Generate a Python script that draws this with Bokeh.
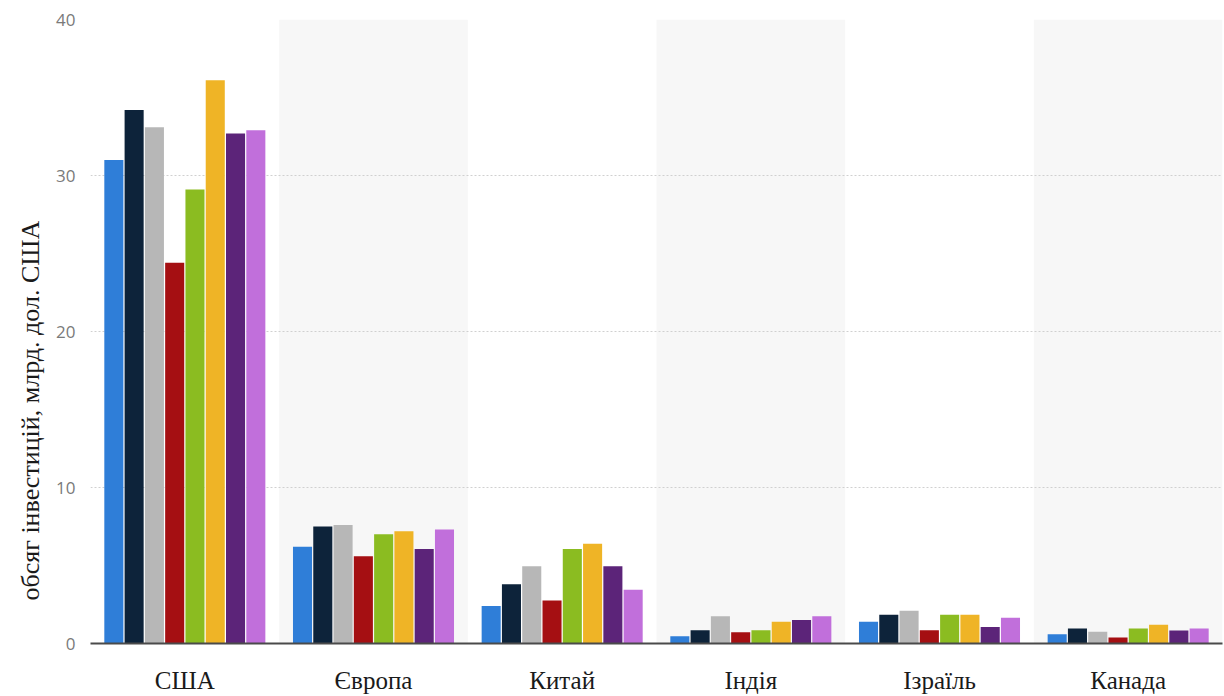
from bokeh.embed import file_html
from bokeh.models import ColumnDataSource, FactorRange, Range1d, Title
from bokeh.plotting import figure
from bokeh.resources import INLINE
from bokeh.transform import dodge

# Regions on the x axis
regions = ["США", "Європа", "Китай", "Індія", "Ізраїль", "Канада"]

# Investment volume per region, billion US dollars, one list per period
period_1 = [31.0, 6.2, 2.4, 0.47, 1.4, 0.6]
period_2 = [34.2, 7.5, 3.8, 0.85, 1.85, 0.96]
period_3 = [33.1, 7.6, 4.95, 1.75, 2.1, 0.75]
period_4 = [24.4, 5.6, 2.75, 0.72, 0.85, 0.38]
period_5 = [29.1, 7.0, 6.05, 0.85, 1.85, 0.96]
period_6 = [36.1, 7.2, 6.4, 1.4, 1.85, 1.2]
period_7 = [32.7, 6.05, 4.95, 1.5, 1.05, 0.83]
period_8 = [32.9, 7.3, 3.45, 1.75, 1.65, 0.96]

series = [period_1, period_2, period_3, period_4,
          period_5, period_6, period_7, period_8]
colors = ["#2f7ed8", "#0d233a", "#b7b7b7", "#a50f12",
          "#8bbc21", "#efb426", "#5c2479", "#c16fdb"]

y_ticks = [0, 10, 20, 30, 40]

data = {"region": regions}
for i, vals in enumerate(series):
    data[f"s{i}"] = vals
source = ColumnDataSource(data)

p = figure(
    width=1224, height=696,
    x_range=FactorRange(*regions, range_padding=0),
    y_range=Range1d(0, 40),
    output_backend="svg", toolbar_location=None,
    min_border_left=90, min_border_right=2,
    min_border_top=19, min_border_bottom=53,
)
p.outline_line_color = None
p.background_fill_color = "white"
p.border_fill_color = "white"

# Alternating light column bands behind every second region
band_src = ColumnDataSource({"region": regions[1::2], "top": [40] * len(regions[1::2])})
p.vbar(x="region", top="top", bottom=0, width=1.0, source=band_src,
       fill_color="#f7f7f7", line_color=None, level="underlay")

# Grouped bars
step = 0.1075
n = len(series)
for i in range(n):
    offset = (i - (n - 1) / 2) * step
    p.vbar(x=dodge("region", offset, range=p.x_range), top=f"s{i}",
           width=step * 0.94, source=source,
           fill_color=colors[i], line_color=None)

# Axes
p.xgrid.grid_line_color = None
p.ygrid.ticker = y_ticks
p.ygrid.grid_line_color = "#d0d0d0"
p.ygrid.grid_line_dash = "2 2"
p.ygrid.grid_line_width = 1

p.yaxis.ticker = y_ticks
p.yaxis.axis_line_color = None
p.yaxis.major_tick_line_color = None
p.yaxis.minor_tick_line_color = None
p.yaxis.major_label_text_font = "Open Sans"
p.yaxis.major_label_text_font_size = "17px"
p.yaxis.major_label_text_color = "#7a7a7a"
p.yaxis.major_label_standoff = 9

p.xaxis.axis_line_color = "#4a4a4a"
p.xaxis.axis_line_width = 2
p.xaxis.major_tick_line_color = None
p.xaxis.minor_tick_line_color = None
p.xaxis.major_label_text_font = "Liberation Serif"
p.xaxis.major_label_text_font_size = "25px"
p.xaxis.major_label_text_color = "#1a1a1a"
p.xaxis.major_label_standoff = 17

# Y axis title as a side title, starting a little above the baseline
p.add_layout(Title(
    text="обсяг інвестицій, млрд. дол. США",
    align="left", offset=43,
    text_font="Liberation Serif", text_font_size="26px",
    text_font_style="normal", text_color="#1a1a1a",
    standoff=18,
), "left")

open("out.html", "w").write(file_html(p, INLINE))
